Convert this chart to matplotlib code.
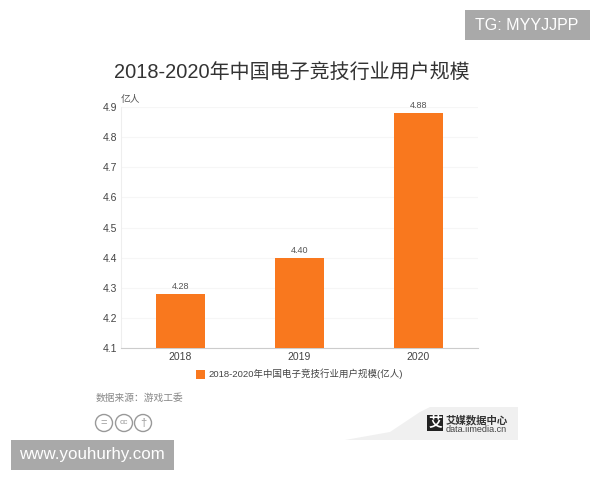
import matplotlib
matplotlib.use('Agg')
import matplotlib.pyplot as plt
from matplotlib.patches import Rectangle, Circle, Polygon

plt.rcParams['font.family'] = ['Liberation Sans', 'Noto Sans CJK SC', 'DejaVu Sans']

years = ['2018', '2019', '2020']
users = [4.28, 4.40, 4.88]
yticks = [4.1, 4.2, 4.3, 4.4, 4.5, 4.6, 4.7, 4.8, 4.9]
title = '2018-2020年中国电子竞技行业用户规模'
series_name = '2018-2020年中国电子竞技行业用户规模(亿人)'
source = '数据来源：游戏工委'

W, H = 600, 480
orange = '#F9781E'


def fx(x):
    return x / W


def fy(y):
    return 1 - y / H


fig = plt.figure(figsize=(6, 4.8), dpi=100)
ax = fig.add_axes([fx(121), fy(348), 357 / W, 241 / H])

bars = ax.bar(years, users, width=0.41, color=orange, label=series_name, zorder=3)
ax.set_xlim(-0.5, 2.5)
ax.set_ylim(4.1, 4.9)
ax.set_yticks(yticks)
ax.set_yticklabels(['%.1f' % v for v in yticks])
ax.grid(axis='y', color='#f6f6f6', linewidth=0.8, zorder=0)
ax.tick_params(axis='y', length=0, labelsize=7.5, labelcolor='#444444', pad=3)
ax.tick_params(axis='x', length=0, labelsize=7.5, labelcolor='#444444', pad=3)
for side in ['top', 'right']:
    ax.spines[side].set_visible(False)
ax.spines['left'].set_color('#eeeeee')
ax.spines['bottom'].set_color('#cccccc')
ax.bar_label(bars, fmt='%.2f', fontsize=6.5, color='#555555', padding=2)

leg = ax.legend(loc='center', bbox_to_anchor=(0.5, -0.108), frameon=False, fontsize=6.8,
                handlelength=1.0, handleheight=1.1, handletextpad=0.4, labelcolor='#444444')

fig.text(fx(121), fy(99), '亿人', fontsize=7, color='#555555', ha='left', va='center')
fig.text(fx(292), fy(72), title, fontsize=14.4, color='#333333', ha='center', va='center')
fig.text(fx(96), fy(398), source, fontsize=7, color='#888888', ha='left', va='center')

# overlay in pixel coords for the licence icons, logo and watermarks
ov = fig.add_axes([0, 0, 1, 1], facecolor='none')
ov.set_xlim(0, W)
ov.set_ylim(H, 0)
ov.axis('off')
for cx, s, fs in zip([104, 124, 143], ['=', 'cc', '†'], [8, 6, 8]):
    ov.add_patch(Circle((cx, 423), 8.5, fill=False, ec='#999999', lw=1))
    ov.text(cx, 423, s, fontsize=fs, color='#999999', ha='center', va='center')

ov.add_patch(Polygon([(345, 440), (390, 432), (420, 412), (430, 407), (518, 407), (518, 440)],
                     fc='#f0f0f0', ec='none'))
ov.add_patch(Rectangle((427, 415), 16, 16, fc='#222222', ec='none'))
ov.text(435, 423, '艾', fontsize=10, color='white', ha='center', va='center', weight='bold')
ov.text(446, 420, '艾媒数据中心', fontsize=7.5, color='#333333', ha='left', va='center', weight='bold')
ov.text(446, 429, 'data.iimedia.cn', fontsize=6.5, color='#444444', ha='left', va='center')

ov.add_patch(Rectangle((465, 10), 125, 30, fc='#a9a9a9', ec='none'))
ov.text(527, 25, 'TG: MYYJJPP', fontsize=11.5, color='white', ha='center', va='center')
ov.add_patch(Rectangle((11, 440), 163, 30, fc='#a9a9a9', ec='none'))
ov.text(92, 455, 'www.youhurhy.com', fontsize=12.2, color='white', ha='center', va='center')

fig.savefig('out.png', dpi=100)
